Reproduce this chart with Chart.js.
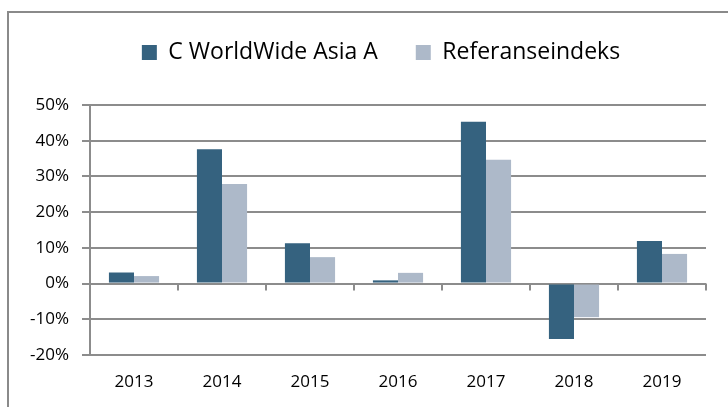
<!DOCTYPE html>
<html>
<head>
<meta charset="utf-8">
<script src="https://cdn.jsdelivr.net/npm/chart.js@4.4.1/dist/chart.umd.min.js"></script>
<style>
  body { margin: 0; background: #fff; overflow: hidden; }
  #frame { position: absolute; left: 7px; top: 11px; width: 800px; height: 500px; border: 2px solid #8a8a8a; }
  #wrap { position: absolute; left: 0; top: 0; width: 728px; height: 407px; }
</style>
</head>
<body>
<div id="frame"></div>
<div id="wrap"><canvas id="chart" width="728" height="407"></canvas></div>
<script>
// data (annual return, %)
const years = ['2013', '2014', '2015', '2016', '2017', '2018', '2019'];
const fund = [3.1, 37.6, 11.3, 0.9, 45.3, -15.5, 11.9];
const benchmark = [2.1, 27.9, 7.4, 3.0, 34.7, -9.4, 8.3];
const yTicks = [-20, -10, 0, 10, 20, 30, 40, 50];

const gridGray = '#8c8c8c';

// tick marks hanging under the zero line, at the category borders
const zeroTicks = {
    id: 'zeroTicks',
    afterDatasetsDraw(chart) {
        const x = chart.scales.x, y = chart.scales.y;
        const y0 = y.getPixelForValue(0);
        const ctx = chart.ctx;
        ctx.save();
        ctx.strokeStyle = gridGray;
        ctx.lineWidth = 2;
        for (let i = 1; i <= years.length; i++) {
            const px = Math.round(x.getPixelForValue(i - 0.5));
            ctx.beginPath();
            ctx.moveTo(px, y0);
            ctx.lineTo(px, y0 + 7);
            ctx.stroke();
        }
        ctx.restore();
    }
};

// extra room under the legend, and legend nudged right like the original
const legendGap = {
    id: 'legendGap',
    beforeInit(chart) {
        const fit = chart.legend.fit;
        chart.legend.fit = function () {
            fit.bind(chart.legend)();
            this.height += 31;
        };
    },
    afterLayout(chart) {
        chart.legend.left += 28;
        chart.legend.right += 28;
    }
};

const ctx = document.getElementById('chart').getContext('2d');
new Chart(ctx, {
    type: 'bar',
    data: {
        labels: years,
        datasets: [
            { label: 'C WorldWide Asia A', data: fund, backgroundColor: '#35627f' },
            { label: 'Referanseindeks', data: benchmark, backgroundColor: '#adb9c9' }
        ]
    },
    options: {
        responsive: false,
        animation: false,
        layout: { padding: { left: 0, right: 22, top: 3, bottom: 0 } },
        datasets: { bar: { categoryPercentage: 0.57, barPercentage: 1.0 } },
        plugins: {
            tooltip: { enabled: false },
            legend: {
                position: 'top',
                labels: {
                    boxWidth: 15, boxHeight: 15, padding: 38,
                    color: '#000',
                    font: { family: 'Open Sans', size: 23 }
                }
            }
        },
        scales: {
            x: {
                grid: { display: false, drawTicks: false },
                border: { display: false },
                ticks: { color: '#000', padding: 17, maxRotation: 0, font: { family: 'Open Sans', size: 17 } },
                afterFit(s) { s.height = 52; }
            },
            y: {
                min: -20, max: 50,
                afterBuildTicks(s) { s.ticks = yTicks.map(v => ({ value: v })); },
                grid: { color: gridGray, lineWidth: 2, tickLength: 8 },
                border: { display: true, color: gridGray, width: 2 },
                ticks: {
                    color: '#000', padding: 13,
                    font: { family: 'Open Sans', size: 17 },
                    callback: v => v + '%'
                },
                afterFit(s) { s.width = 90; }
            }
        }
    },
    plugins: [zeroTicks, legendGap]
});
</script>
</body>
</html>
